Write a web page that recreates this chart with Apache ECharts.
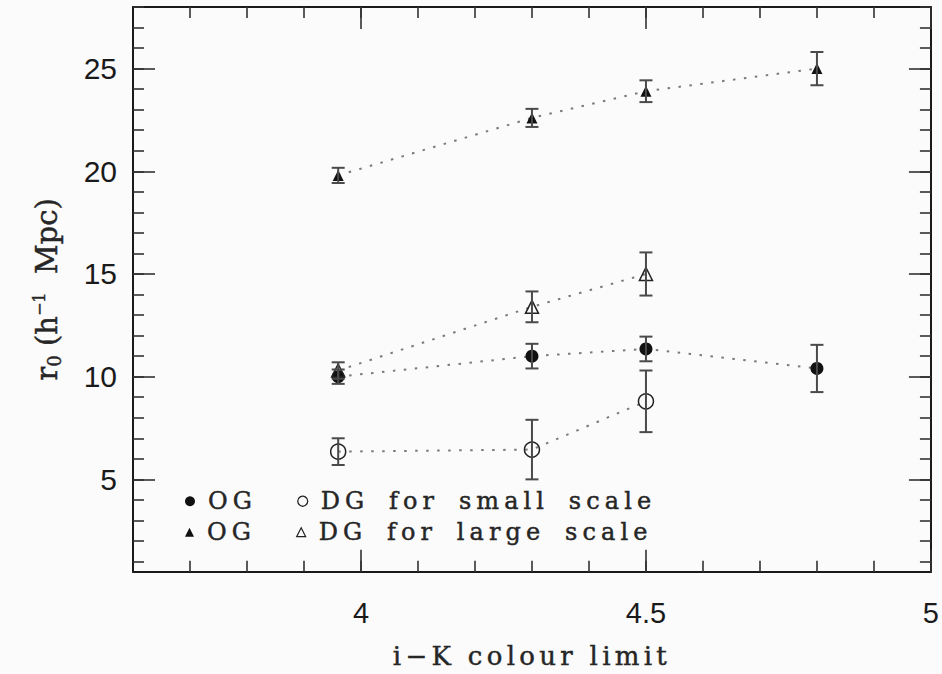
<!DOCTYPE html>
<html>
<head>
<meta charset="utf-8">
<script src="https://cdn.jsdelivr.net/npm/echarts@6/dist/echarts.min.js"></script>
<style>
  html, body { margin: 0; padding: 0; background: #fbfbfb; }
  #chart { width: 942px; height: 674px; }
  /* wide, plotter-style tracking for the serif captions */
  #chart text[style*="Spaced"] { letter-spacing: 5.1px; word-spacing: 7px; }
  #chart text[style*="Tracked"] { letter-spacing: 4.3px; }
</style>
</head>
<body>
<div id="chart"></div>
<script>
// i-K colour limits at which the correlation length was measured
const colourLimits = [3.96, 4.3, 4.5, 4.8];

// r0 (h^-1 Mpc) and 1-sigma errors, small-scale fits
const ogSmall = [10.0, 11.0, 11.35, 10.4];
const ogSmallErr = [0.35, 0.6, 0.6, 1.15];
const dgSmall = [6.35, 6.45, 8.8];
const dgSmallErr = [0.65, 1.45, 1.5];

// r0 (h^-1 Mpc) and 1-sigma errors, large-scale fits
const ogLarge = [19.8, 22.6, 23.9, 25.0];
const ogLargeErr = [0.37, 0.44, 0.53, 0.81];
const dgLarge = [10.3, 13.4, 15.0];
const dgLargeErr = [0.4, 0.75, 1.05];

// axis ranges and tick positions
const xRange = [3.6, 5.0];
const yRange = [0.5, 28];
const xMajor = [4, 4.5, 5];
const yMajor = [5, 10, 15, 20, 25];
const xMinor = [];
for (let i = 37; i <= 49; i++) xMinor.push(i / 10);
const yMinor = [];
for (let i = 1; i <= 28; i++) yMinor.push(i);

const INK = '#1a1a1a';
const TEXT = '#262626';
const serif = 'DejaVu Serif';
const legendFace = 'DejaVu Serif, Spaced';
const titleFace = 'DejaVu Serif, Tracked';
const sans = 'Liberation Sans';
// a hairline outline gives the serif captions a plotter-pen weight
const pen = { textBorderColor: TEXT, textBorderWidth: 0.45 };

function points(ys) {
  return ys.map((y, i) => [colourLimits[i], y]);
}
function bars(ys, es) {
  return ys.map((y, i) => [colourLimits[i], y - es[i], y + es[i]]);
}

const legendText = {
  'OG small': 'OG',
  'DG small': 'DG for small scale',
  'OG large': 'OG',
  'DG large': 'DG for large scale'
};

function xAxisDef(pos, ticks, len, showLine, labels) {
  return {
    type: 'value', position: pos, min: xRange[0], max: xRange[1],
    axisLine: { show: showLine, onZero: false, lineStyle: { color: INK, width: 2 } },
    axisTick: { show: true, inside: true, length: len, customValues: ticks,
                lineStyle: { color: '#333', width: 1.6 } },
    axisLabel: labels ? { show: true, customValues: xMajor, margin: 27,
                          fontFamily: sans, fontSize: 29, color: INK,
                          formatter: v => String(v) }
                      : { show: false },
    splitLine: { show: false }
  };
}
function yAxisDef(pos, ticks, len, showLine, labels) {
  return {
    type: 'value', position: pos, min: yRange[0], max: yRange[1],
    axisLine: { show: showLine, onZero: false, lineStyle: { color: INK, width: 2 } },
    axisTick: { show: true, inside: true, length: len, customValues: ticks,
                lineStyle: { color: '#333', width: 1.6 } },
    axisLabel: labels ? { show: true, customValues: yMajor, margin: 16,
                          fontFamily: sans, fontSize: 30, color: INK }
                      : { show: false },
    splitLine: { show: false }
  };
}

const xAxes = [
  xAxisDef('bottom', xMajor, 22, true, true),
  xAxisDef('bottom', xMinor, 11, false, false),
  xAxisDef('top', xMajor, 22, true, false),
  xAxisDef('top', xMinor, 11, false, false)
];
xAxes[0].name = 'i\u2212K colour limit';
xAxes[0].nameLocation = 'middle';
xAxes[0].nameGap = 71;
xAxes[0].nameTextStyle = Object.assign({ fontFamily: titleFace, fontSize: 26, color: TEXT }, pen);

const yAxes = [
  yAxisDef('left', yMajor, 22, true, true),
  yAxisDef('left', yMinor, 11, false, false),
  yAxisDef('right', yMajor, 22, true, false),
  yAxisDef('right', yMinor, 11, false, false)
];
yAxes[0].name = '{t|r}{sub|0}{t| (h}{sup|\u22121}{t|  Mpc)}';
yAxes[0].nameLocation = 'middle';
yAxes[0].nameGap = 70;
yAxes[0].nameTextStyle = {
  fontFamily: serif, fontSize: 29, color: TEXT,
  rich: {
    t: Object.assign({ fontFamily: serif, fontSize: 29, color: TEXT, lineHeight: 32 }, pen),
    sub: Object.assign({ fontFamily: serif, fontSize: 18, color: TEXT, lineHeight: 32, verticalAlign: 'bottom' }, pen),
    sup: Object.assign({ fontFamily: serif, fontSize: 16, color: TEXT, lineHeight: 32, verticalAlign: 'top' }, pen)
  }
};

const dotted = { color: '#7a7a7a', width: 2, type: [2.5, 8.5] };
const filled = { color: '#111', borderColor: '#111', borderWidth: 0 };
const hollow = { color: 'rgba(0,0,0,0)', borderColor: '#222', borderWidth: 1.5 };

function lineSeries(name, ys, symbol, size, style) {
  return {
    name, type: 'line', xAxisIndex: 0, yAxisIndex: 0,
    data: points(ys), symbol, symbolSize: size, showSymbol: true,
    lineStyle: dotted, itemStyle: style, z: 2, silent: true,
    animation: false
  };
}

function errorSeries(ys, es) {
  return {
    type: 'custom', xAxisIndex: 0, yAxisIndex: 0, z: 4, silent: true,
    encode: { x: 0, y: [1, 2] },
    data: bars(ys, es),
    renderItem(params, api) {
      const x = api.value(0);
      const lo = api.coord([x, api.value(1)]);
      const hi = api.coord([x, api.value(2)]);
      const half = 6.5;
      const st = { stroke: '#4a4a4a', lineWidth: 2 };
      return {
        type: 'group',
        children: [
          { type: 'line', shape: { x1: lo[0], y1: lo[1], x2: hi[0], y2: hi[1] }, style: st },
          { type: 'line', shape: { x1: lo[0] - half, y1: lo[1], x2: lo[0] + half, y2: lo[1] }, style: st },
          { type: 'line', shape: { x1: hi[0] - half, y1: hi[1], x2: hi[0] + half, y2: hi[1] }, style: st }
        ]
      };
    },
    animation: false
  };
}

const legendBase = {
  left: 185, padding: 0, itemWidth: 10, itemHeight: 10, itemGap: 50,
  selectedMode: false,
  formatter: n => legendText[n],
  textStyle: Object.assign({ fontFamily: legendFace, fontSize: 24, color: TEXT, padding: [0, 0, 0, 8] }, pen)
};

const chart = echarts.init(document.getElementById('chart'), null, { renderer: 'svg' });
chart.setOption({
  backgroundColor: '#fbfbfb',
  animation: false,
  grid: { left: 133, right: 11, top: 7, bottom: 102, containLabel: false },
  xAxis: xAxes,
  yAxis: yAxes,
  legend: [
    Object.assign({}, legendBase, {
      top: 489,
      data: [
        { name: 'OG small', icon: 'circle', itemStyle: filled },
        { name: 'DG small', icon: 'circle', itemStyle: { color: 'rgba(0,0,0,0)', borderColor: '#222', borderWidth: 1.3 } }
      ]
    }),
    Object.assign({}, legendBase, {
      top: 520,
      itemWidth: 9, itemHeight: 9,
      data: [
        { name: 'OG large', icon: 'triangle', itemStyle: filled },
        { name: 'DG large', icon: 'triangle', itemStyle: { color: 'rgba(0,0,0,0)', borderColor: '#222', borderWidth: 1.2 } }
      ]
    })
  ],
  series: [
    lineSeries('OG small', ogSmall, 'circle', 13, filled),
    lineSeries('DG small', dgSmall, 'circle', 15, hollow),
    lineSeries('OG large', ogLarge, 'triangle', 11, filled),
    lineSeries('DG large', dgLarge, 'triangle', 13, hollow),
    errorSeries(ogSmall, ogSmallErr),
    errorSeries(dgSmall, dgSmallErr),
    errorSeries(ogLarge, ogLargeErr),
    errorSeries(dgLarge, dgLargeErr)
  ]
});
</script>
</body>
</html>
